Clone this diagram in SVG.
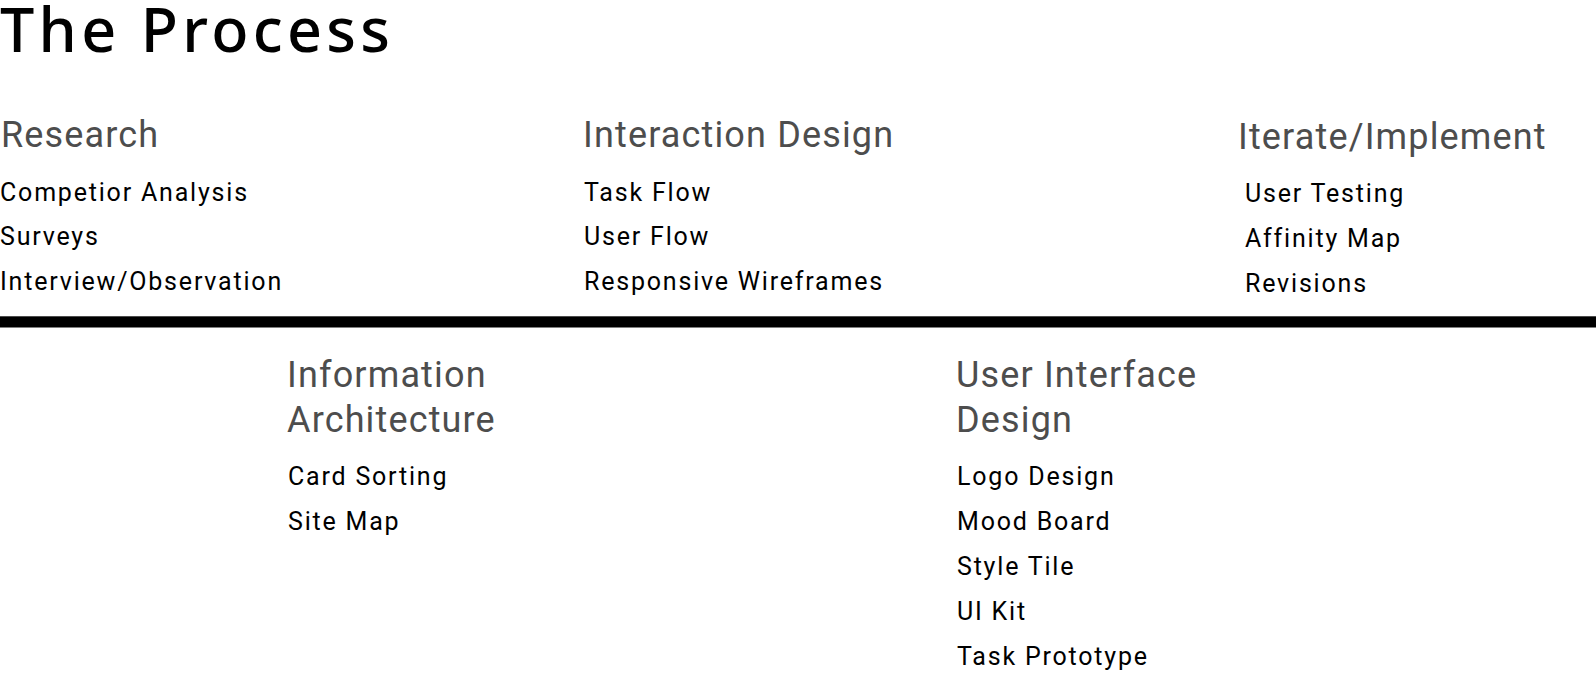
<svg xmlns="http://www.w3.org/2000/svg" width="1596" height="680" viewBox="0 0 1596 680">
<style>
.title{font-family:"Noto Sans",Lato,sans-serif;font-size:61px;font-weight:500;fill:#000}
.h{font-family:Roboto,"Liberation Sans",sans-serif;font-size:36px;font-weight:400;fill:#4d4d4d;letter-spacing:1.15px}
.i{font-family:Roboto,"Liberation Sans",sans-serif;font-size:25px;font-weight:400;fill:#000;letter-spacing:1.8px}
</style>
<rect width="1596" height="680" fill="#fff"/>
<g id="title"><text class="title" x="0" y="52" textLength="390" lengthAdjust="spacing">The Process</text></g>
<g id="bar"><rect x="0" y="316.3" width="1596" height="11.2" fill="#000"/></g>
<g id="research">
<text class="h" x="1" y="147">Research</text>
<text class="i" x="0" y="200.5">Competior Analysis</text>
<text class="i" x="0" y="245.3">Surveys</text>
<text class="i" x="0" y="290">Interview/Observation</text>
</g>
<g id="interaction-design">
<text class="h" x="583" y="147">Interaction Design</text>
<text class="i" x="584" y="200.5">Task Flow</text>
<text class="i" x="584" y="245.3">User Flow</text>
<text class="i" x="584" y="290">Responsive Wireframes</text>
</g>
<g id="iterate-implement">
<text class="h" x="1238" y="149">Iterate/Implement</text>
<text class="i" x="1245" y="202.4">User Testing</text>
<text class="i" x="1245" y="247.2">Affinity Map</text>
<text class="i" x="1245" y="292">Revisions</text>
</g>
<g id="information-architecture">
<text class="h" x="287" y="387.4">Information</text>
<text class="h" x="287" y="432.2">Architecture</text>
<text class="i" x="288" y="485.4">Card Sorting</text>
<text class="i" x="288" y="530.2">Site Map</text>
</g>
<g id="user-interface-design">
<text class="h" x="956" y="387.4">User Interface</text>
<text class="h" x="956" y="432.2">Design</text>
<text class="i" x="957" y="485.4">Logo Design</text>
<text class="i" x="957" y="530.2">Mood Board</text>
<text class="i" x="957" y="575">Style Tile</text>
<text class="i" x="957" y="619.8">UI Kit</text>
<text class="i" x="957" y="664.6">Task Prototype</text>
</g>
</svg>
